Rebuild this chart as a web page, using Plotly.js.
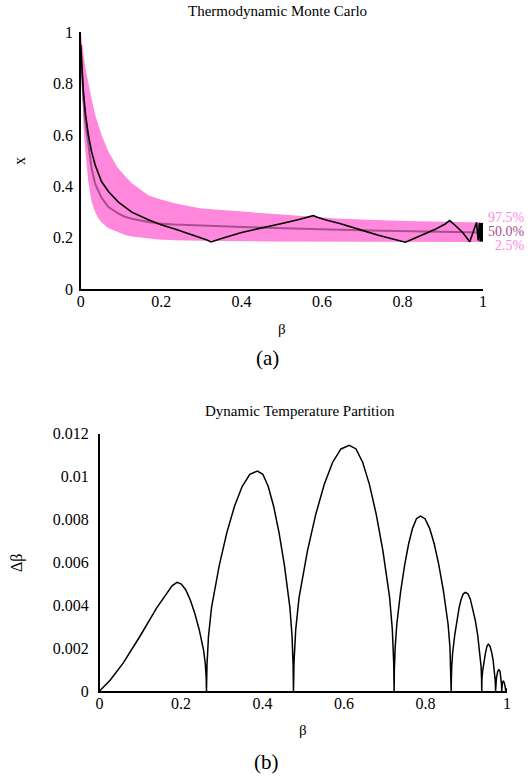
<!DOCTYPE html>
<html>
<head>
<meta charset="utf-8">
<script src="https://cdn.plot.ly/plotly-3.0.1.min.js"></script>
<style>html,body{margin:0;padding:0;background:#fff;}#chart{width:532px;height:780px;}</style>
</head>
<body>
<div id="chart"></div>
<script>
// ---- Panel (a): Thermodynamic Monte Carlo ----
var bandBeta  = [0, 0.002, 0.0066, 0.0107, 0.0149, 0.019, 0.027, 0.036, 0.044, 0.052, 0.069, 0.093, 0.11, 0.127, 0.168, 0.193, 0.234, 0.296, 0.334, 0.462, 0.5, 0.644, 0.75, 0.81, 1.0];
var upper975  = [1.0, 0.975, 0.915, 0.87, 0.835, 0.807, 0.74, 0.677, 0.635, 0.60, 0.535, 0.47, 0.44, 0.412, 0.366, 0.352, 0.334, 0.315, 0.31, 0.295, 0.291, 0.274, 0.268, 0.265, 0.26];
var lower025  = [0.95, 0.85, 0.64, 0.55, 0.48, 0.418, 0.34, 0.3, 0.276, 0.26, 0.237, 0.22, 0.211, 0.205, 0.197, 0.194, 0.191, 0.188, 0.188, 0.186, 0.186, 0.185, 0.185, 0.185, 0.184];
var median50  = [0.95, 0.88, 0.74, 0.66, 0.61, 0.574, 0.47, 0.41, 0.38, 0.355, 0.32, 0.295, 0.282, 0.274, 0.262, 0.256, 0.252, 0.25, 0.246, 0.239, 0.237, 0.231, 0.228, 0.226, 0.221];

var tmcBeta = [0, 0.002, 0.0066, 0.012, 0.019, 0.027, 0.036, 0.052, 0.069, 0.093, 0.127, 0.168, 0.2, 0.234, 0.26, 0.28, 0.296, 0.312, 0.324,
               0.335, 0.35, 0.4, 0.45, 0.5, 0.54, 0.565, 0.578,
               0.59, 0.61, 0.644, 0.669, 0.7, 0.74, 0.78, 0.797, 0.807,
               0.817, 0.84, 0.88, 0.905, 0.917,
               0.93, 0.95, 0.967, 0.972, 0.978, 0.984,
               0.988, 0.991, 0.993, 0.995, 0.996, 0.997, 0.998, 0.999, 1.0];
var tmcX    = [0.95, 0.88, 0.768, 0.68, 0.6, 0.535, 0.483, 0.418, 0.38, 0.34, 0.30, 0.27, 0.251, 0.234, 0.221, 0.21, 0.202, 0.193, 0.184,
               0.19, 0.197, 0.221, 0.24, 0.256, 0.27, 0.279, 0.286,
               0.279, 0.269, 0.256, 0.245, 0.229, 0.21, 0.194, 0.188, 0.183,
               0.19, 0.205, 0.232, 0.253, 0.267,
               0.25, 0.22, 0.185, 0.205, 0.235, 0.26,
               0.19, 0.258, 0.186, 0.258, 0.186, 0.258, 0.186, 0.258, 0.222];

var bandLabels = ['97.5%', '50.0%', '2.5%'];

// ---- Panel (b): Dynamic Temperature Partition ----
var partBeta = [0, 0.01, 0.026, 0.058, 0.099, 0.14, 0.165, 0.178, 0.19,
  0.2009, 0.2118, 0.2226, 0.2335, 0.2444, 0.2553, 0.2596, 0.2618, 0.2625,
  0.2638, 0.2675, 0.275, 0.2938, 0.3125, 0.3313, 0.35, 0.3688, 0.3875,
  0.4008, 0.4141, 0.4273, 0.4406, 0.4539, 0.4672, 0.4725, 0.4751, 0.476,
  0.4774, 0.4815, 0.4897, 0.5103, 0.5308, 0.5514, 0.5719, 0.5925, 0.613,
  0.6295, 0.646, 0.6625, 0.679, 0.6955, 0.712, 0.7186, 0.7219, 0.723,
  0.7236, 0.7256, 0.7295, 0.7391, 0.7488, 0.7585, 0.7682, 0.7778, 0.7875,
  0.7988, 0.8102, 0.8215, 0.8328, 0.8441, 0.8555, 0.86, 0.8622, 0.863,
  0.8634, 0.8644, 0.8665, 0.8718, 0.877, 0.8823, 0.8875, 0.8928, 0.898,
  0.904, 0.91, 0.916, 0.922, 0.928, 0.934, 0.9364, 0.9376, 0.938,
  0.9385, 0.94, 0.943, 0.947, 0.951, 0.954, 0.958, 0.962, 0.966, 0.969, 0.971, 0.972,
  0.9725, 0.974, 0.977, 0.98, 0.983, 0.9855, 0.9866, 0.987,
  0.9875, 0.989, 0.991, 0.993, 0.995, 0.9965, 0.997, 0.998, 0.999, 1.0];
var partDelta = [0, 0.0002, 0.0005, 0.0013, 0.00254, 0.00386, 0.00456, 0.0049, 0.00506,
  0.00498, 0.00471, 0.00425, 0.00364, 0.00288, 0.00192, 0.00127, 0.00061, 0,
  0.00123, 0.00256, 0.0039, 0.00584, 0.00738, 0.00861, 0.00953, 0.0101, 0.01025,
  0.0101, 0.00953, 0.00861, 0.00738, 0.00584, 0.0039, 0.00256, 0.00123, 0,
  0.00137, 0.00286, 0.00435, 0.00653, 0.00824, 0.00962, 0.01065, 0.01128, 0.01145,
  0.01128, 0.01065, 0.00962, 0.00824, 0.00653, 0.00435, 0.00286, 0.00137, 0,
  0.00098, 0.00204, 0.0031, 0.00465, 0.00587, 0.00685, 0.00758, 0.00803, 0.00815,
  0.00803, 0.00758, 0.00685, 0.00587, 0.00465, 0.0031, 0.00204, 0.00098, 0,
  0.00055, 0.00115, 0.00175, 0.00262, 0.00331, 0.00386, 0.00428, 0.00453, 0.0046,
  0.00453, 0.00428, 0.00386, 0.00331, 0.00262, 0.00175, 0.00115, 0.00055, 0,
  0.00055, 0.0009, 0.00135, 0.00175, 0.0021, 0.00218, 0.0021, 0.00183, 0.00143, 0.00097, 0.0005, 0,
  0.0003, 0.0006, 0.0009, 0.00101, 0.0009, 0.0006, 0.0003, 0,
  0.00025, 0.0004, 0.00047, 0.0004, 0.00025, 0.0001, 0, 0.00012, 0.00005, 0];

var xTicks = [0, 0.2, 0.4, 0.6, 0.8, 1];
var yTicksA = [0, 0.2, 0.4, 0.6, 0.8, 1];
var yTicksB = [0, 0.002, 0.004, 0.006, 0.008, 0.01, 0.012];

var W = 532, H = 780;
function px(x){ return x / W; }
function py(y){ return 1 - y / H; }

var PINK = '#ff88dd';
var MAUVE = '#a8508f';
var SERIF = '"Liberation Serif"';

var traces = [
  {x: bandBeta, y: lower025, xaxis: 'x', yaxis: 'y', mode: 'lines', line: {width: 0, color: PINK}, hoverinfo: 'skip', showlegend: false},
  {x: bandBeta, y: upper975, xaxis: 'x', yaxis: 'y', mode: 'lines', fill: 'tonexty', fillcolor: PINK, line: {width: 0, color: PINK}, hoverinfo: 'skip', showlegend: false},
  {x: bandBeta, y: median50, xaxis: 'x', yaxis: 'y', mode: 'lines', line: {width: 2, color: MAUVE}, showlegend: false},
  {x: tmcBeta, y: tmcX, xaxis: 'x', yaxis: 'y', mode: 'lines', line: {width: 1.6, color: '#000'}, showlegend: false},
  {x: partBeta, y: partDelta, xaxis: 'x2', yaxis: 'y2', mode: 'lines', line: {width: 1.5, color: '#000'}, showlegend: false}
];

function ax(extra){
  var o = {
    showgrid: false, zeroline: false, showline: true, linecolor: '#000', linewidth: 1.5,
    ticks: '', tickfont: {family: SERIF, size: 16, color: '#000'}, fixedrange: true
  };
  for (var k in extra) o[k] = extra[k];
  return o;
}

var ann = [];
function txt(t, x, y, size, opts){
  var a = {text: t, xref: 'paper', yref: 'paper', x: px(x), y: py(y), xanchor: 'center', yanchor: 'middle',
           showarrow: false, font: {family: SERIF, size: size, color: '#000'}};
  if (opts) for (var k in opts) { if (k === 'color') a.font.color = opts[k]; else a[k] = opts[k]; }
  ann.push(a);
}
txt('Thermodynamic Monte Carlo', 277, 11, 15);
txt('x', 20, 161, 16, {textangle: -90});
txt('β', 282, 329, 15);
txt('(a)', 267, 358, 21);
txt(bandLabels[0], 527, 217.5, 14, {xanchor: 'right', color: PINK});
txt(bandLabels[1], 527, 231.5, 14, {xanchor: 'right', color: MAUVE});
txt(bandLabels[2], 527, 245.5, 14, {xanchor: 'right', color: PINK});
txt('Dynamic Temperature Partition', 300, 411, 15);
txt('Δβ', 17, 563, 16, {textangle: -90});
txt('β', 303, 730, 15);
txt('(b)', 266, 762, 21);

var layout = {
  width: W, height: H, margin: {l: 0, r: 0, t: 0, b: 0},
  paper_bgcolor: '#fff', plot_bgcolor: 'rgba(0,0,0,0)', showlegend: false,
  font: {family: SERIF, color: '#000'},
  xaxis: ax({domain: [px(80.7), px(483)], range: [0, 1], tickvals: xTicks, anchor: 'y', ticklabelstandoff: -3}),
  yaxis: ax({domain: [py(289.3), py(32)], range: [0, 1], tickvals: yTicksA, anchor: 'x', ticklabelstandoff: 3}),
  xaxis2: ax({domain: [px(99.5), px(507)], range: [0, 1], tickvals: xTicks, anchor: 'y2', ticklabelstandoff: -3}),
  yaxis2: ax({domain: [py(691), py(433.5)], range: [0, 0.012], tickvals: yTicksB, anchor: 'x2', ticklabelstandoff: 6}),
  annotations: ann
};

Plotly.newPlot('chart', traces, layout, {staticPlot: true, displayModeBar: false});
</script>
</body>
</html>
